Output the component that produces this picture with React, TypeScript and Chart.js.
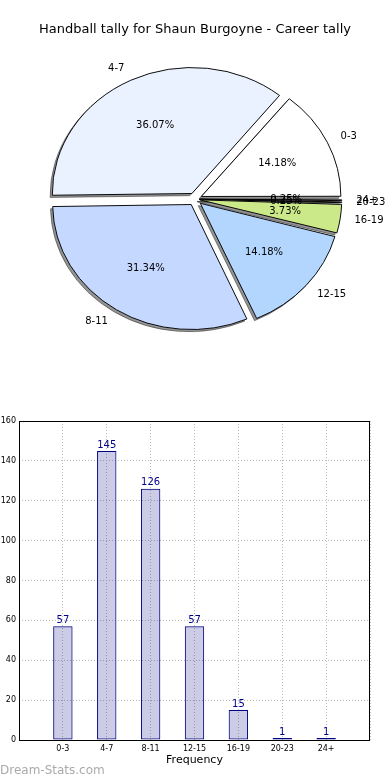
import React, { useEffect, useRef } from 'react';
import { Chart, registerables } from 'chart.js';

Chart.register(...registerables);

const TITLE = 'Handball tally for Shaun Burgoyne - Career tally';
const categories = ['0-3', '4-7', '8-11', '12-15', '16-19', '20-23', '24+'];
const tallies = [57, 145, 126, 57, 15, 1, 1];
const sliceColors = ['#ffffff', '#eaf1ff', '#c5d8ff', '#b3d6ff', '#cce98a', '#f5c2a0', '#e0b0d0'];
const Y_MAX = 160;
const Y_STEP = 20;
const X_TITLE = 'Frequency';
const WATERMARK = 'Dream-Stats.com';

const FONT = 'DejaVu Sans';
const R = 124.5;
const LABEL_R = 126.5;
const SX = 138 / 124.5;
const EXPLODE = 0.05;
const T0 = EXPLODE * LABEL_R;

const total = tallies.reduce((a, b) => a + b, 0);

const pieShapePlugin = {
  id: 'pieShape',
  beforeDatasetsDraw(chart: any) {
    const ctx = chart.ctx;
    const arcs = chart.getDatasetMeta(0).data;
    const a0 = arcs[0];
    ctx.save();
    ctx.translate(a0.x, a0.y);
    ctx.scale(SX, 1);
    ctx.translate(-a0.x, -a0.y);
    ctx.save();
    ctx.translate(-2.2 / SX, 2.2);
    ctx.filter = 'brightness(0) opacity(0.42)';
    arcs.forEach((a: any) => a.draw(ctx));
    ctx.restore();
  },
  afterDatasetsDraw(chart: any) {
    const ctx = chart.ctx;
    ctx.restore();
    const arcs = chart.getDatasetMeta(0).data;
    const labels = chart.data.labels;
    const data = chart.data.datasets[0].data;
    ctx.save();
    ctx.fillStyle = '#000';
    ctx.font = `10px "${FONT}"`;
    ctx.textBaseline = 'middle';
    arcs.forEach((a: any, i: number) => {
      const mid = (a.startAngle + a.endAngle) / 2;
      const r = LABEL_R;
      const c = Math.cos(mid);
      const s = Math.sin(mid);
      const lk = EXPLODE + 1.1;
      ctx.textAlign = c > 0 ? 'left' : 'right';
      ctx.fillText(labels[i], a.x + SX * lk * r * c, a.y + lk * r * s);
      const pk = EXPLODE + 0.6;
      ctx.textAlign = 'center';
      const pct = ((data[i] / total) * 100).toFixed(2) + '%';
      ctx.fillText(pct, a.x + SX * pk * r * c, a.y + pk * r * s);
    });
    ctx.restore();
  },
};

const framePlugin = {
  id: 'frame',
  afterDatasetsDraw(chart: any) {
    const { ctx, chartArea: a } = chart;
    ctx.save();
    ctx.strokeStyle = '#000';
    ctx.lineWidth = 1;
    ctx.strokeRect(Math.round(a.left) + 0.5, Math.round(a.top) + 0.5, Math.round(a.right - a.left) - 1, Math.round(a.bottom - a.top));
    ctx.restore();
  },
};

const valueLabelPlugin = {
  id: 'valueLabels',
  afterDatasetsDraw(chart: any) {
    const ctx = chart.ctx;
    const meta = chart.getDatasetMeta(0);
    const data = chart.data.datasets[0].data;
    ctx.save();
    ctx.fillStyle = '#00008b';
    ctx.font = `10px "${FONT}"`;
    ctx.textAlign = 'center';
    ctx.textBaseline = 'bottom';
    meta.data.forEach((b: any, i: number) => {
      if (data[i] == null) return;
      ctx.fillText(String(data[i]), b.x, b.y - 1);
    });
    ctx.restore();
  },
};

export default function App() {
  const pieRef = useRef<HTMLCanvasElement>(null);
  const barRef = useRef<HTMLCanvasElement>(null);

  useEffect(() => {
    Chart.defaults.font.family = FONT;
    const revLabels = [...categories].reverse();
    const revData = [...tallies].reverse();
    const revColors = [...sliceColors].reverse();
    const pie = new Chart(pieRef.current!, {
      type: 'pie',
      data: {
        labels: revLabels,
        datasets: [
          {
            data: revData,
            backgroundColor: revColors,
            borderColor: '#000',
            borderWidth: 0.9,
            clip: false as any,
            offset: ((c: any) => {
              const v = c.raw as number;
              const circ = (2 * Math.PI * v) / total;
              const fix = 1 - Math.sin(Math.min(Math.PI, circ));
              return 4 * T0 * Math.min(1, 1.25 / (1 + fix));
            }) as any,
          },
        ],
      },
      options: {
        responsive: false,
        animation: false,
        events: [],
        rotation: 90,
        radius: R,
        layout: { padding: { left: 0, right: 0, top: 0, bottom: 39.2 } },
        plugins: {
          legend: { display: false },
          tooltip: { enabled: false },
          title: {
            display: true,
            text: TITLE,
            color: '#000',
            font: { size: 13, weight: 'normal', family: FONT },
            padding: { top: 22, bottom: 10 },
          },
        },
      } as any,
      plugins: [pieShapePlugin],
    });

    const barLabels = ['', ...categories, ''];
    const barData = [null, ...tallies, null];
    const bar = new Chart(barRef.current!, {
      type: 'bar',
      data: {
        labels: barLabels,
        datasets: [
          {
            data: barData as any,
            backgroundColor: 'rgba(0,0,128,0.2)',
            borderColor: '#000080',
            borderWidth: 1,
            borderSkipped: false,
            barPercentage: 0.442,
            categoryPercentage: 1,
          },
        ],
      },
      options: {
        responsive: false,
        animation: false,
        events: [],
        layout: { padding: { top: 21, right: 20, left: 0, bottom: 0 } },
        plugins: { legend: { display: false }, tooltip: { enabled: false } },
        scales: {
          x: {
            type: 'category',
            offset: false,
            grid: { offset: false, color: '#bbb', lineWidth: 1, drawTicks: false },
            border: { display: false, dash: [1, 2] },
            ticks: { autoSkip: false, maxRotation: 0, font: { size: 8 }, color: '#000', padding: 4 },
            title: { display: true, text: X_TITLE, font: { size: 11 }, color: '#000', padding: { top: 0, bottom: 13 } },
            afterFit(s: any) {
              s.height = 40;
            },
          },
          y: {
            min: 0,
            max: Y_MAX,
            ticks: { stepSize: Y_STEP, font: { size: 8 }, color: '#000', padding: 3 },
            grid: { color: '#bbb', lineWidth: 1, drawTicks: false },
            border: { display: false, dash: [1, 2] },
            afterFit(s: any) {
              s.width = 19;
            },
          },
        },
      } as any,
      plugins: [framePlugin, valueLabelPlugin],
    });

    return () => {
      pie.destroy();
      bar.destroy();
    };
  }, []);

  return (
    <div style={{ position: 'absolute', left: 0, top: 0, width: 390, height: 780, background: '#fff', overflow: 'hidden' }}>
      <canvas ref={pieRef} width={390} height={390} style={{ position: 'absolute', left: 0, top: 0, width: 390, height: 390 }} />
      <canvas ref={barRef} width={390} height={380} style={{ position: 'absolute', left: 0, top: 400, width: 390, height: 380 }} />
      <div
        style={{
          position: 'absolute',
          left: 0,
          top: 762,
          fontFamily: FONT,
          fontSize: 12,
          lineHeight: '16px',
          color: '#aaa',
          whiteSpace: 'nowrap',
        }}
      >
        {WATERMARK}
      </div>
    </div>
  );
}
